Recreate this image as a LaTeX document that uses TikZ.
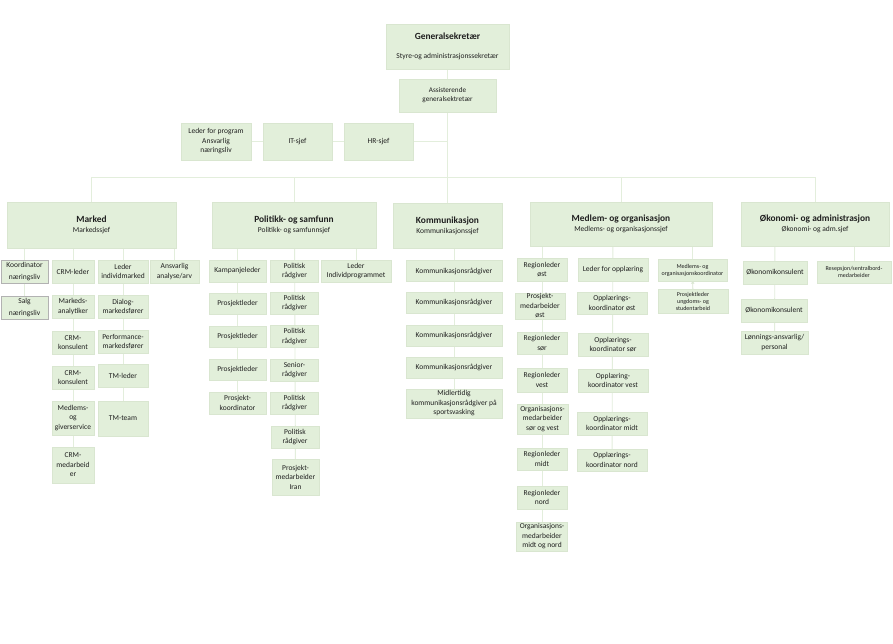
\documentclass[tikz,border=0pt]{standalone}
\usepackage{fontspec}
\setmainfont{Carlito}
\usetikzlibrary{backgrounds,arrows.meta}
\definecolor{boxfill}{HTML}{E2EFDA}
\definecolor{boxline}{HTML}{D9E6D0}
\definecolor{linkline}{HTML}{E3EEDC}
\definecolor{txt}{HTML}{1F1F1F}
\tikzset{
  unit/.style={draw=boxline,fill=boxfill,text=txt,align=center,inner sep=1pt,font=\fontsize{7.5}{9.5}\selectfont},
  dept/.style={unit,font=\fontsize{7.5}{10}\selectfont},
  small/.style={unit,font=\fontsize{7.2}{9}\selectfont},
  tiny/.style={unit,font=\fontsize{6}{7}\selectfont},
  grey/.style={unit,draw=black!30,font=\fontsize{7.5}{11.5}\selectfont},
  link/.style={draw=linkline,line width=0.9pt},
  sz/.style 2 args={minimum width=#1,minimum height=#2},
}
\newcommand{\headline}[1]{{\fontsize{9.4}{11}\selectfont\bfseries #1}}

\begin{document}
\begin{tikzpicture}[x=1pt,y=-1pt]
                      \useasboundingbox (0,0) rectangle (893,644);
                      \node[unit,sz={123}{45}] (Root) at (447.5,46.5) {\headline{Generalsekretær}\\[9pt]Styre-og administrasjonssekretær};
                      \node[small,sz={97}{33}] (Ass) at (447.5,95.5) {Assisterende\\generalsektretær};
                      \node[unit,sz={70}{37}] (Prog) at (216,141.5) {Leder for program\\Ansvarlig\\næringsliv};
                      \node[unit,sz={69}{37}] (IT) at (297.5,141.5) {IT-sjef};
                      \node[unit,sz={69}{37}] (HR) at (378.5,141.5) {HR-sjef};
                      \coordinate (Bus) at (0,177);
                      \node[dept,sz={169}{46}] (Mkt) at (91.5,225) {\headline{Marked}\\Markedssjef};
                      \node[dept,sz={164}{46}] (Pol) at (294,225) {\headline{Politikk- og samfunn}\\Politikk- og samfunnsjef};
                      \node[dept,sz={109}{45}] (Kom) at (447.5,225.5) {\headline{Kommunikasjon}\\Kommunikasjonssjef};
                      \node[dept,sz={182}{44}] (Med) at (621,224) {\headline{Medlem- og organisasjon}\\Medlems- og organisasjonssjef};
                      \node[dept,sz={148}{44}] (Oko) at (815,224) {\headline{Økonomi- og administrasjon}\\Økonomi- og adm.sjef};
                      \node[grey,sz={47}{23}] (M1) at (24.5,271.5) {Koordinator\\næringsliv};
                      \node[grey,sz={47}{23}] (M1b) at (24.5,307.5) {Salg\\næringsliv};
                      \node[unit,sz={42}{23}] (M2) at (73,271.5) {CRM-leder};
                      \node[unit,sz={42}{23}] (M2a) at (73,306.5) {Markeds-\\analytiker};
                      \node[unit,sz={42}{23}] (M2b) at (73,342.5) {CRM-\\konsulent};
                      \node[unit,sz={42}{23}] (M2c) at (73,377.5) {CRM-\\konsulent};
                      \node[unit,sz={42}{34}] (M2d) at (73,418) {Medlems-\\og\\giverservice};
                      \node[unit,sz={42}{36}] (M2e) at (73,465) {CRM-\\medarbeid\\er};
                      \node[unit,sz={50}{23}] (M3) at (123,271.5) {Leder\\individmarked};
                      \node[unit,sz={50}{23}] (M3a) at (123,306.5) {Dialog-\\markedsfører};
                      \node[unit,sz={50}{23}] (M3b) at (123,341.5) {Performance-\\markedsfører};
                      \node[unit,sz={50}{23}] (M3c) at (123,375.5) {TM-leder};
                      \node[unit,sz={50}{35}] (M3d) at (123,418.5) {TM-team};
                      \node[unit,sz={49}{23}] (M4) at (174.5,271.5) {Ansvarlig\\analyse/arv};
                      \node[unit,sz={57}{22}] (P1) at (237.5,271) {Kampanjeleder};
                      \node[unit,sz={57}{21}] (P1a) at (237.5,303.5) {Prosjektleder};
                      \node[unit,sz={57}{21}] (P1b) at (237.5,337) {Prosjektleder};
                      \node[unit,sz={57}{21}] (P1c) at (237.5,370) {Prosjektleder};
                      \node[unit,sz={57}{22}] (P1d) at (237.5,403) {Prosjekt-\\koordinator};
                      \node[unit,sz={48}{22}] (P2) at (294.5,271) {Politisk\\rådgiver};
                      \node[unit,sz={48}{22}] (P2a) at (294.5,303) {Politisk\\rådgiver};
                      \node[unit,sz={48}{22}] (P2b) at (294.5,336.5) {Politisk\\rådgiver};
                      \node[unit,sz={48}{22}] (P2c) at (294.5,370) {Senior-\\rådgiver};
                      \node[unit,sz={48}{22}] (P2d) at (294.5,403) {Politisk\\rådgiver};
                      \node[unit,sz={48}{22}] (P2e) at (295,437) {Politisk\\rådgiver};
                      \node[unit,sz={47}{36}] (P2f) at (295.5,477) {Prosjekt-\\medarbeider\\Iran};
                      \node[unit,sz={70}{22}] (P3) at (356,271) {Leder\\Individprogrammet};
                      \node[unit,sz={96}{21}] (K1) at (454,271) {Kommunikasjonsrådgiver};
                      \node[unit,sz={96}{21}] (K2) at (454,302.5) {Kommunikasjonsrådgiver};
                      \node[unit,sz={96}{21}] (K3) at (454,335.5) {Kommunikasjonsrådgiver};
                      \node[unit,sz={96}{21}] (K4) at (454,367.5) {Kommunikasjonsrådgiver};
                      \node[unit,sz={96}{29}] (K5) at (454,403.5) {Midlertidig\\kommunikasjonsrådgiver på\\sportsvasking};
                      \node[unit,sz={50}{23}] (R1) at (542,269.5) {Regionleder\\øst};
                      \node[unit,sz={50}{26}] (R2) at (540,306) {Prosjekt-\\medarbeider\\øst};
                      \node[unit,sz={50}{22}] (R3) at (542,343) {Regionleder\\sør};
                      \node[unit,sz={50}{24}] (R4) at (542,380) {Regionleder\\vest};
                      \node[unit,sz={51}{30}] (R5) at (542.5,419) {Organisasjons-\\medarbeider\\sør og vest};
                      \node[unit,sz={50}{22}] (R6) at (542,459) {Regionleder\\midt};
                      \node[unit,sz={50}{23}] (R7) at (542,497.5) {Regionleder\\nord};
                      \node[unit,sz={51}{29}] (R8) at (542,536.5) {Organisasjons-\\medarbeider\\midt og nord};
                      \node[unit,sz={70}{23}] (O1) at (613,269.5) {Leder for opplæring};
                      \node[unit,sz={70}{22}] (O2) at (612,303) {Opplærings-\\koordinator øst};
                      \node[unit,sz={70}{23}] (O3) at (613,344.5) {Opplærings-\\koordinator sør};
                      \node[unit,sz={70}{23}] (O4) at (613,380.5) {Opplæring-\\koordinator vest};
                      \node[unit,sz={70}{23}] (O5) at (612,423.5) {Opplærings-\\koordinator midt};
                      \node[unit,sz={70}{22}] (O6) at (612,460) {Opplærings-\\koordinator nord};
                      \node[tiny,sz={69}{22}] (MK1) at (692.5,270) {Medlems- og\\organisasjonskoordinator};
                      \node[tiny,sz={70}{24}] (MK2) at (693,301) {Prosjektleder\\ungdoms- og\\studentarbeid};
                      \node[unit,sz={64}{23}] (E1) at (775,272.5) {Økonomikonsulent};
                      \node[unit,sz={66}{23}] (E2) at (774,310.5) {Økonomikonsulent};
                      \node[unit,sz={67}{23}] (E3) at (774.5,342.5) {Lønnings-ansvarlig/\\personal};
                      \node[tiny,sz={74}{22}] (E4) at (854,272) {Resepsjon/sentralbord-\\medarbeider};
                      \begin{scope}[on background layer]
                      \fill[white] (0,0) rectangle (893,644);
                      \path[link] (Root) edge (Kom) (Prog) edge (Prog -| Root);
                      \draw[link] (Mkt) -- (Mkt |- Bus) -| (Oko);
                      \path[link] (Pol) edge (Pol |- Bus) (Med) edge (Med |- Bus);
                      \path[link] (M1 |- Mkt) edge (M1b) (M2 |- Mkt) edge (M2e)
                      (M3 |- Mkt) edge (M3d) (M4 |- Mkt) edge (M4);
                      \path[link] (P1 |- Pol) edge (P1d) (P2 |- Pol) edge (P2f) (P3 |- Pol) edge (P3);
                      \path[link] (K1 |- Kom) edge (K5);
                      \path[link] (R1 |- Med) edge (R8) (O1 |- Med) edge (O6) (MK1 |- Med) edge (MK1);
                      \path[link] (E1 |- Oko) edge (E3) (E4 |- Oko) edge (E4);
                      \end{scope}
                      \draw[link,draw=boxline,-{Triangle[length=2.5pt,width=3.5pt]}] (MK2) -- (MK1);
                    \end{tikzpicture}
\end{document}
